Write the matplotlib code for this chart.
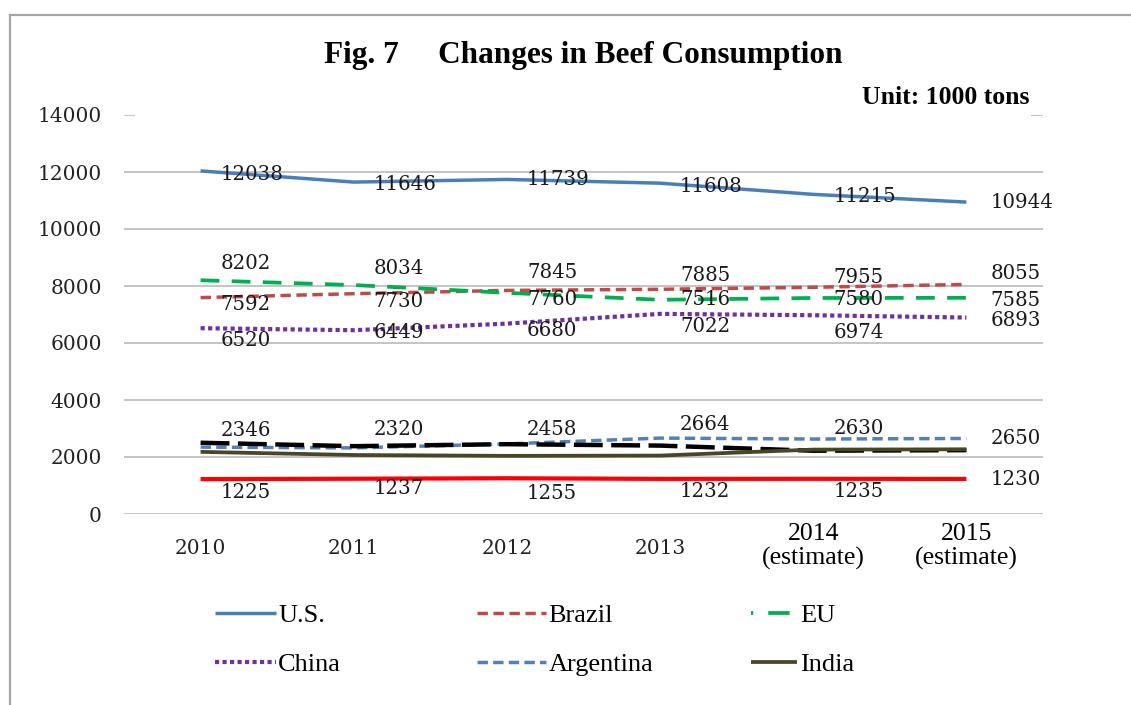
import matplotlib
matplotlib.use("Agg")
import matplotlib.pyplot as plt
import matplotlib.transforms as mtransforms
from matplotlib.lines import Line2D
from matplotlib.patches import Rectangle
import numpy as np

# ---- data (1000 tons) ----
years = ["2010", "2011", "2012", "2013", "2014", "2015"]
estimate_flags = [False, False, False, False, True, True]

us = [12038, 11646, 11739, 11608, 11215, 10944]
brazil = [7592, 7730, 7845, 7885, 7955, 8055]
eu = [8202, 8034, 7760, 7516, 7580, 7585]
china = [6520, 6449, 6680, 7022, 6974, 6893]
argentina = [2346, 2320, 2458, 2664, 2630, 2650]
india = [2180, 2070, 2040, 2050, 2260, 2270]
other_dashed = [2500, 2380, 2450, 2400, 2220, 2240]
other_solid = [1225, 1237, 1255, 1232, 1235, 1230]

yticks = [0, 2000, 4000, 6000, 8000, 10000, 12000, 14000]

W, H = 1131, 705
fig = plt.figure(figsize=(W / 100, H / 100), dpi=100)
fig.patch.set_facecolor("white")


def fx(px):
    return px / W


def fy(py):
    return 1 - py / H


ax = fig.add_axes([fx(124), fy(514), fx(1043) - fx(124), fy(115) - fy(514)])
x = np.arange(len(years))

serif_num = "DejaVu Serif"
serif_txt = "Liberation Serif"

series = [
    # name, values, color, lw(pt), linestyle, legend?
    ("U.S.", us, "#4A7EBB", 2.5, "-", True),
    ("Brazil", brazil, "#BE4B48", 2.5, (0, (3.0, 1.6)), True),
    ("EU", eu, "#00B050", 2.7, (0, (5.0, 3.3)), True),
    ("China", china, "#7030A0", 3.0, (0, (1.0, 0.8)), True),
    ("Argentina", argentina, "#4F81BD", 2.5, (0, (3.0, 1.5)), True),
    ("other_dashed", other_dashed, "#000000", 3.2, (0, (6.5, 1.9)), False),
    ("India", india, "#4A4528", 2.7, "-", True),
    ("other_solid", other_solid, "#FF0000", 3.0, "-", False),
]

handles = {}
for name, vals, color, lw, ls, in_legend in series:
    (ln,) = ax.plot(x, vals, color=color, lw=lw, linestyle=ls,
                    dash_capstyle="butt", solid_capstyle="butt", zorder=3,
                    label=name if in_legend else "_nolegend_")
    handles[name] = ln

# data-label vertical offsets in pixels (positive = downward)
label_dy = {
    "U.S.": [4, 2, 0, 3, 2, 0],
    "Brazil": [7, 8, -18, -14, -10, -11],
    "EU": [-17, -17, 7, 0, 2, 3],
    "China": [12, 2, 7, 13, 17, 3],
    "Argentina": [-17, -18, -14, -14, -11, 0],
    "other_solid": [13, 10, 15, 13, 13, 1],
}
label_series = {"U.S.": us, "Brazil": brazil, "EU": eu, "China": china,
                "Argentina": argentina, "other_solid": other_solid}
for name, vals in label_series.items():
    for i, v in enumerate(vals):
        dx = 24 if i == len(vals) - 1 else 20
        ax.annotate(str(v), (x[i], v), xytext=(dx, -label_dy[name][i]),
                    textcoords="offset pixels", ha="left", va="center",
                    fontsize=14.2, family=serif_num, color="#1a1a1a", zorder=5)

ax.set_xlim(-0.5, len(years) - 0.5)
ax.set_ylim(0, 14000)
ax.set_yticks(yticks)
ax.set_yticklabels([str(t) for t in yticks], family=serif_num, fontsize=14.5,
                   color="#222222")
ax.tick_params(axis="y", length=0, pad=16)
ax.set_xticks(x)
ax.set_xticklabels([])
ax.tick_params(axis="x", length=0)
ax.grid(axis="y", color="#BFBFBF", lw=1.3)
ax.set_axisbelow(True)
for s in ax.spines.values():
    s.set_visible(False)

# category labels
cat_tf = mtransforms.blended_transform_factory(ax.transData, fig.transFigure)
for i, (yr, est) in enumerate(zip(years, estimate_flags)):
    if est:
        ax.text(x[i], fy(534), yr, transform=cat_tf, ha="center", va="center",
                family=serif_txt, fontsize=18.5)
        ax.text(x[i], fy(558), "(estimate)", transform=cat_tf, ha="center",
                va="center", family=serif_txt, fontsize=18.5)
    else:
        ax.text(x[i], fy(548), yr, transform=cat_tf, ha="center", va="center",
                family=serif_num, fontsize=14.5, color="#222222")

# white title panel hiding the top gridline
ax.add_patch(Rectangle((fx(135), fy(125)), fx(1031) - fx(135), fy(40) - fy(125),
                       transform=fig.transFigure, facecolor="white",
                       edgecolor="none", zorder=4, clip_on=False))

fig.text(fx(583), fy(55), "Fig. 7     Changes in Beef Consumption",
         ha="center", va="center", family=serif_txt, fontweight="bold",
         fontsize=22.5)
fig.text(fx(1030), fy(97), "Unit: 1000 tons", ha="right", va="center",
         family=serif_txt, fontweight="bold", fontsize=18.5)

# legends: three columns of two entries
legend_cols = [
    (["U.S.", "China"], 215, 2.3),
    (["Brazil", "Argentina"], 477, 2.6),
    (["EU", "India"], 751, 1.75),
]
for names, left, hlen in legend_cols:
    leg = fig.legend([handles[n] for n in names], names,
                     loc="upper left", bbox_to_anchor=(fx(left), fy(604)),
                     bbox_transform=fig.transFigure, frameon=False,
                     borderpad=0, borderaxespad=0, handlelength=hlen,
                     handletextpad=0.1, labelspacing=0.95,
                     prop={"family": serif_txt, "size": 19})
    if "EU" in names:
        leg.get_lines()[0].set_linestyle((0, (0.6, 4.0, 5.7, 10)))

# outer frame
fig.add_artist(Line2D([fx(10), fx(10)], [fy(15), 0], color="#A6A6A6", lw=1.6,
                      transform=fig.transFigure))
fig.add_artist(Line2D([fx(10), 1], [fy(15), fy(15)], color="#A6A6A6", lw=1.6,
                      transform=fig.transFigure))

fig.savefig("out.png", dpi=100, facecolor="white")
